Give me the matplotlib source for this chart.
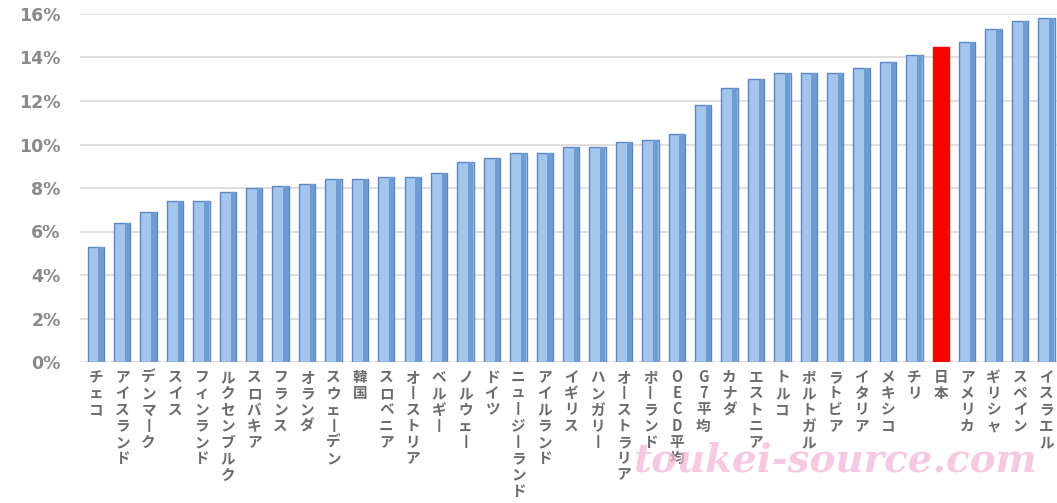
import matplotlib
matplotlib.use("Agg")
import matplotlib.pyplot as plt
import numpy as np

# relative poverty rate by country
countries = ["チェコ", "アイスランド", "デンマーク", "スイス", "フィンランド",
             "ルクセンブルク", "スロバキア", "フランス", "オランダ", "スウェーデン",
             "韓国", "スロベニア", "オーストリア", "ベルギー", "ノルウェー",
             "ドイツ", "ニュージーランド", "アイルランド", "イギリス", "ハンガリー",
             "オーストラリア", "ポーランド", "OECD平均", "G7平均", "カナダ",
             "エストニア", "トルコ", "ポルトガル", "ラトビア", "イタリア",
             "メキシコ", "チリ", "日本", "アメリカ", "ギリシャ",
             "スペイン", "イスラエル"]
rates = [5.3, 6.4, 6.9, 7.4, 7.4,
         7.8, 8.0, 8.1, 8.2, 8.4,
         8.4, 8.5, 8.5, 8.7, 9.2,
         9.4, 9.6, 9.6, 9.9, 9.9,
         10.1, 10.2, 10.5, 11.8, 12.6,
         13.0, 13.3, 13.3, 13.3, 13.5,
         13.8, 14.1, 14.5, 14.7, 15.3,
         15.7, 15.8]
highlight = "日本"
yticks = [0, 2, 4, 6, 8, 10, 12, 14, 16]

JP = ["Noto Sans CJK JP", "DejaVu Sans"]


def vertical(s):
    # stack characters top-to-bottom like vertical Japanese text
    return "\n".join("丨" if c == "ー" else c for c in s)


fig = plt.figure(figsize=(10.57, 5.03), dpi=100)
ax = fig.add_axes([80 / 1057, 141 / 503, 977 / 1057, 348 / 503])

x = np.arange(len(countries))
vals = np.array(rates) / 100
face = ["#ff0000" if c == highlight else "#a4c6ec" for c in countries]
edge = ["#ff0000" if c == highlight else "#5a88c4" for c in countries]
ax.bar(x, vals, width=0.62, color=face, edgecolor=edge, linewidth=1.0, zorder=3)
# darker right-hand side to mimic the cylinder shading
blue = np.array([c != highlight for c in countries])
ax.bar(x[blue] + 0.2, vals[blue], width=0.2, color="#6f9bd3",
       edgecolor="none", zorder=4)

ax.set_xlim(-0.6, 36.4)
ax.set_ylim(0, 0.16)
ax.set_yticks([v / 100 for v in yticks])
ax.set_yticklabels([f"{v}%" for v in yticks], fontsize=12.5,
                   fontweight="bold", color="#8a8a8a")
ax.yaxis.grid(True, color="#d9d9d9", linewidth=1.2, zorder=0)
ax.tick_params(axis="both", length=0, pad=14)
ax.tick_params(axis="x", pad=5)
ax.set_xticks(x)
ax.set_xticklabels([vertical(c) for c in countries], family=JP, fontsize=10.5,
                   fontweight="bold", color="#6b6b6b", linespacing=1.02,
                   va="top")
for s in ax.spines.values():
    s.set_visible(False)

fig.text(0.79, 0.085, "toukei-source.com", ha="center", va="center",
         family="DejaVu Serif", fontsize=28, fontweight="bold",
         style="italic", color="#f3b3d6", alpha=0.7)

fig.savefig("out.png", dpi=100)
